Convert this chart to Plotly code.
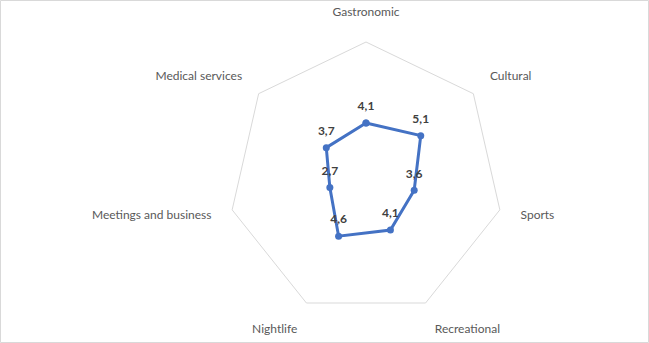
import plotly.graph_objects as go

categories = ["Gastronomic", "Cultural", "Sports", "Recreational", "Nightlife",
              "Meetings and business", "Medical services"]
values = [4.1, 5.1, 3.6, 4.1, 4.6, 2.7, 3.7]
value_labels = [f"{v:.1f}".replace(".", ",") for v in values]

W, H = 649, 343
cx, cy = 366, 179.3  # center in px (from top)
R1 = 137.3
R2 = 158

def dom(R, dy=0.0):
    cyb = H - cy + dy
    return dict(x=[(cx - R) / W, (cx + R) / W], y=[(cyb - R) / H, (cyb + R) / H])

fig = go.Figure()

fig.add_trace(go.Scatterpolar(
    r=values + values[:1],
    theta=categories + categories[:1],
    mode="lines+markers",
    line=dict(color="#4472C4", width=3),
    marker=dict(color="#4472C4", size=7),
    cliponaxis=False,
    subplot="polar",
    showlegend=False,
    hoverinfo="skip",
))

# data labels (invisible larger marker to push label a bit higher)
fig.add_trace(go.Scatterpolar(
    r=values,
    theta=categories,
    mode="markers+text",
    marker=dict(size=14, opacity=0),
    text=value_labels,
    textposition="top center",
    textfont=dict(family="Lato", size=12, color="#404040", weight="bold"),
    cliponaxis=False,
    subplot="polar",
    showlegend=False,
    hoverinfo="skip",
))

fig.add_trace(go.Scatterpolar(
    r=[0] * len(categories),
    theta=categories,
    mode="markers",
    marker=dict(opacity=0),
    subplot="polar2",
    showlegend=False,
    hoverinfo="skip",
))

fig.update_layout(
    width=W, height=H,
    margin=dict(l=0, r=0, t=0, b=0),
    paper_bgcolor="white",
    font=dict(family="Lato", size=12, color="#595959"),
    polar=dict(
        domain=dom(R1),
        gridshape="linear",
        bgcolor="rgba(0,0,0,0)",
        radialaxis=dict(range=[0, 10], showgrid=False, showline=False,
                        showticklabels=False, ticks=""),
        angularaxis=dict(direction="clockwise", rotation=90, showgrid=False,
                         showline=True, linecolor="#D9D9D9", linewidth=1,
                         showticklabels=False, ticks="",
                         categoryorder="array", categoryarray=categories),
    ),
    polar2=dict(
        domain=dom(R2, dy=2),
        gridshape="linear",
        bgcolor="rgba(0,0,0,0)",
        radialaxis=dict(visible=False, range=[0, 10]),
        angularaxis=dict(direction="clockwise", rotation=90, showgrid=False,
                         showline=False, ticks="",
                         tickfont=dict(family="Lato", size=12, color="#595959"),
                         categoryorder="array", categoryarray=categories),
    ),
    shapes=[dict(type="rect", xref="paper", yref="paper",
                 x0=0.5 / W, x1=1 - 0.5 / W, y0=0.5 / H, y1=1 - 0.5 / H,
                 line=dict(color="#D9D9D9", width=1))],
)

fig.write_html("out.html", config={"displayModeBar": False},
               post_script="document.body.style.margin='0';document.body.style.overflow='hidden';")
